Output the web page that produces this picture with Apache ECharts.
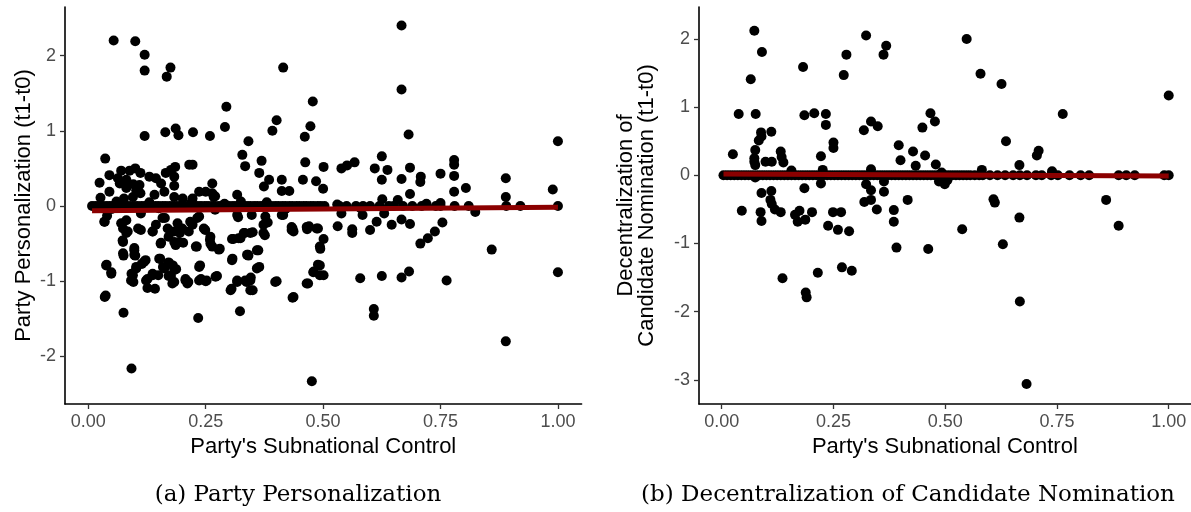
<!DOCTYPE html>
<html>
<head>
<meta charset="utf-8">
<script src="https://cdn.jsdelivr.net/npm/echarts@6/dist/echarts.min.js"></script>
<style>
  html, body { margin: 0; padding: 0; background: #fff; }
  #chart { width: 1191px; height: 512px; }
</style>
</head>
<body>
<div id="chart"></div>
<script>
// Panel (a): change in party personalization vs. subnational control, [x, y]
const persAbove = [
  [0.054,2.20],[0.10,2.19],[0.12,2.01],[0.12,1.80],[0.12,0.93],[0.175,1.84],[0.167,1.72],[0.164,0.98],
  [0.186,1.03],[0.192,0.94],[0.223,0.98],[0.259,0.93],[0.291,1.05],[0.294,1.32],[0.341,0.86],[0.328,0.68],
  [0.334,0.53],[0.369,0.60],[0.364,0.44],[0.385,0.35],[0.374,0.26],[0.392,1.00],[0.401,1.14],[0.415,1.84],
  [0.412,0.35],[0.412,0.20],[0.428,0.20],[0.461,0.92],[0.473,1.06],[0.478,1.39],[0.462,0.58],[0.457,0.35],
  [0.485,0.33],[0.501,0.52],[0.50,0.23],[0.539,0.50],[0.551,0.54],[0.567,0.58],[0.61,0.50],[0.625,0.66],
  [0.637,0.48],[0.625,0.35],[0.667,2.40],[0.667,1.55],[0.682,0.95],[0.685,0.51],[0.667,0.36],[0.685,0.16],
  [0.707,0.32],[0.708,0.39],[0.75,0.43],[0.779,0.61],[0.779,0.55],[0.779,0.40],[0.779,0.19],[0.804,0.24],
  [0.889,0.37],[0.889,0.12],[0.989,0.22],[1.0,0.86],
  [0.036,0.63],[0.024,0.31],[0.045,0.41],[0.063,0.37],[0.070,0.47],[0.081,0.35],[0.088,0.47],[0.100,0.50],
  [0.111,0.44],[0.067,0.30],[0.081,0.24],[0.109,0.28],[0.111,0.17],[0.130,0.39],[0.144,0.37],[0.155,0.30],
  [0.165,0.44],[0.176,0.48],[0.183,0.39],[0.183,0.27],[0.162,0.19],[0.183,0.12],[0.201,0.10],[0.222,0.10],
  [0.236,0.19],[0.250,0.19],[0.264,0.30],[0.267,0.12],[0.317,0.15],[0.215,0.55],[0.222,0.55],[0.045,0.19],
  [0.026,0.11],[0.076,0.10],[0.095,0.12],[0.102,0.21],[0.141,0.15],[0.185,0.52],[0.096,0.29],[0.264,0.17],
  [0.27,0.13],[0.325,0.06],[0.626,0.09],[0.659,0.08],[0.75,0.04],[0.13,0.05],[0.06,0.06],[0.22,0.05],
  [0.29,0.03],[0.38,0.05],[0.53,0.02],[0.72,0.03]
];
const persBelow = [
  [0.824,-0.08],[0.859,-0.58],[0.738,-0.34],[0.754,-0.22],[0.723,-0.43],[0.707,-0.50],[0.685,-0.24],
  [0.667,-0.18],[0.646,-0.25],[0.63,-0.10],[0.614,-0.21],[0.60,-0.32],[0.584,-0.12],[0.562,-0.31],
  [0.562,-0.36],[0.531,-0.27],[0.539,-0.10],[0.501,-0.44],[0.494,-0.57],[0.489,-0.30],[0.47,-0.27],
  [0.466,-0.31],[0.435,-0.30],[0.437,-0.34],[0.415,-0.12],[0.376,-0.39],[0.382,-0.22],[0.362,-0.59],
  [0.35,-0.35],[0.34,-0.65],[0.333,-0.36],[0.324,-0.43],[0.309,-0.44],[0.319,-0.15],[0.28,-0.57],
  [0.264,-0.54],[0.259,-0.45],[0.249,-0.32],[0.231,-0.54],[0.236,-0.14],[0.217,-0.21],[0.195,-0.36],
  [0.186,-0.52],[0.202,-0.49],[0.171,-0.41],[0.163,-0.16],[0.154,-0.50],[0.137,-0.34],[0.112,-0.10],
  [0.106,-0.30],[0.098,-0.56],[0.081,-0.36],[0.073,-0.46],[0.034,-0.21],[0.04,-0.13],
  [0.035,-0.21],[0.070,-0.23],[0.081,-0.19],[0.074,-0.30],[0.084,-0.34],[0.112,-0.32],[0.137,-0.34],
  [0.144,-0.25],[0.158,-0.16],[0.169,-0.30],[0.183,-0.34],[0.190,-0.23],[0.200,-0.30],[0.214,-0.34],
  [0.222,-0.25],[0.232,-0.16],[0.246,-0.30],[0.260,-0.41],[0.260,-0.50],[0.278,-0.58],[0.155,-0.49],
  [0.193,-0.48],[0.183,-0.48],[0.229,-0.54],[0.074,-0.48],[0.074,-0.63],[0.098,-0.59],[0.098,-0.65],
  [0.119,-0.74],[0.102,-0.83],[0.091,-0.99],[0.095,-0.92],[0.123,-0.99],[0.137,-0.92],[0.151,-0.70],
  [0.162,-0.83],[0.172,-0.76],[0.183,-0.85],[0.176,-0.93],[0.179,-1.03],[0.207,-0.99],[0.211,-1.03],
  [0.236,-0.81],[0.236,-0.99],[0.250,-1.00],[0.271,-0.94],[0.038,-0.79],[0.049,-0.90],[0.035,-1.21],
  [0.303,-1.12],[0.317,-1.01],[0.334,-0.99],[0.345,-0.99],[0.345,-1.12],[0.359,-0.83],[0.359,-0.59],
  [0.338,-0.65],[0.306,-0.72],[0.317,-0.12],[0.306,-0.44],[0.320,-0.43],[0.331,-0.36],[0.345,-0.36],
  [0.373,-0.36],[0.373,-0.25],[0.377,-0.14],[0.433,-0.28],[0.433,-0.32],[0.465,-0.28],[0.486,-0.30],
  [0.493,-0.54],[0.479,-0.88],[0.493,-0.79],[0.493,-0.92],[0.465,-1.03],[0.398,-1.01],[0.435,-1.22],
  [0.412,-0.12],[0.348,-0.12],
  [0.039,-0.78],[0.049,-0.88],[0.037,-1.19],[0.075,-1.42],[0.092,-2.16],[0.075,-0.66],[0.10,-0.66],
  [0.092,-0.90],[0.096,-1.01],[0.102,-0.81],[0.114,-0.77],[0.122,-0.72],[0.126,-0.97],[0.126,-1.09],
  [0.142,-1.10],[0.137,-0.90],[0.153,-0.70],[0.149,-0.92],[0.159,-0.81],[0.171,-0.75],[0.171,-0.93],
  [0.18,-0.79],[0.183,-1.01],[0.187,-0.84],[0.207,-0.97],[0.213,-1.01],[0.234,-1.49],[0.238,-0.79],
  [0.24,-0.97],[0.252,-0.99],[0.274,-0.93],[0.307,-0.70],[0.305,-1.10],[0.317,-0.99],[0.323,-1.40],
  [0.341,-0.66],[0.337,-1.01],[0.346,-0.95],[0.35,-1.12],[0.364,-0.81],[0.401,-1.00],[0.437,-1.21],
  [0.468,-1.03],[0.48,-0.87],[0.489,-0.78],[0.501,-0.92],[0.476,-2.33],[0.579,-0.96],[0.608,-1.37],
  [0.608,-1.46],[0.625,-0.93],[0.667,-0.95],[0.683,-0.87],[0.763,-0.99],[0.889,-1.80],[1.0,-0.88],
  [0.05,-0.04],[0.15,-0.03],[0.27,-0.05],[0.42,-0.04],[0.58,-0.03]
];
// cases with no change (y = 0)
const persZeroX = [
  0.008,0.015,0.022,0.03,0.038,0.045,0.052,0.06,0.068,0.075,0.083,0.09,0.098,0.105,0.113,0.12,0.128,
  0.135,0.143,0.15,0.158,0.165,0.173,0.18,0.188,0.195,0.203,0.21,0.218,0.225,0.233,0.24,0.248,0.255,
  0.263,0.27,0.278,0.285,0.293,0.3,0.308,0.315,0.323,0.33,0.338,0.345,0.353,0.36,0.368,0.375,0.383,
  0.39,0.398,0.405,0.413,0.42,0.428,0.435,0.443,0.45,0.458,0.465,0.473,0.48,0.488,0.495,0.503,
  0.535,0.55,0.57,0.585,0.6,0.62,0.64,0.65,0.67,0.69,0.71,0.74,0.75,0.78,0.81,0.89,0.92,1.0
];
// fitted linear trend, panel (a)
const persFitX = [0.008, 1.0];
const persFitY = [-0.064, -0.018];

// Panel (b): change in decentralization of candidate nomination, [x, y]
const decPoints = [
  [0.073,2.12],[0.065,1.41],[0.09,1.81],[0.038,0.90],[0.076,0.90],[0.025,0.31],[0.045,-0.52],[0.088,0.63],
  [0.083,0.51],[0.089,0.57],[0.075,0.37],[0.073,0.20],[0.075,0.15],[0.073,0.25],[0.098,0.20],[0.112,0.20],
  [0.111,0.64],[0.132,0.35],[0.134,0.27],[0.138,0.19],[0.089,-0.26],[0.111,-0.23],[0.109,-0.36],
  [0.112,-0.42],[0.119,-0.50],[0.132,-0.54],[0.087,-0.54],[0.089,-0.67],[0.156,0.07],[0.164,-0.58],
  [0.174,-0.52],[0.170,-0.68],[0.187,-0.65],[0.185,-0.19],[0.182,1.59],[0.185,0.88],[0.207,0.91],
  [0.202,-0.54],[0.222,0.28],[0.226,0.08],[0.222,-0.12],[0.233,0.90],[0.233,0.74],[0.238,-0.74],
  [0.25,0.48],[0.25,0.40],[0.249,-0.54],[0.267,-0.54],[0.26,-0.80],[0.285,-0.82],[0.273,1.47],
  [0.279,1.77],[0.323,2.05],[0.318,0.66],[0.334,0.79],[0.349,0.72],[0.334,0.09],[0.323,-0.13],
  [0.334,-0.22],[0.319,-0.39],[0.334,-0.36],[0.347,-0.50],[0.363,-0.24],[0.363,-0.09],[0.362,1.77],
  [0.368,1.90],[0.385,-0.51],[0.385,-0.68],[0.391,-1.06],[0.396,0.44],[0.40,0.22],[0.416,-0.36],
  [0.428,0.35],[0.434,0.14],[0.449,0.70],[0.455,0.29],[0.467,0.91],[0.477,0.79],[0.462,-1.08],
  [0.479,0.16],[0.492,0.04],[0.486,-0.09],[0.499,-0.13],[0.505,-0.07],[0.538,-0.79],[0.548,2.00],
  [0.579,1.49],[0.582,0.08],[0.608,-0.35],[0.611,-0.40],[0.626,1.34],[0.636,0.50],[0.629,-1.01],
  [0.666,-0.62],[0.666,0.15],[0.705,0.29],[0.709,0.36],[0.763,0.90],[0.739,0.06],[0.86,-0.36],
  [0.888,-0.74],[1.0,1.17],[0.075,-0.03],
  [0.136,-1.51],[0.188,-1.72],[0.190,-1.79],[0.215,-1.43],[0.269,-1.35],[0.291,-1.40],[0.667,-1.85],
  [0.682,-3.06]
];
const decZeroX = [
  0.004,0.012,0.02,0.028,0.036,0.044,0.052,0.06,0.068,0.076,0.084,0.092,0.1,0.108,0.116,0.124,0.132,
  0.14,0.148,0.156,0.164,0.172,0.18,0.188,0.196,0.204,0.212,0.22,0.228,0.236,0.244,0.252,0.26,0.268,
  0.276,0.284,0.292,0.3,0.308,0.316,0.324,0.332,0.34,0.348,0.356,0.364,0.372,0.38,0.388,0.396,0.404,
  0.412,0.42,0.428,0.436,0.444,0.452,0.46,0.468,0.476,0.484,0.492,0.5,0.508,0.516,0.524,0.532,0.54,
  0.548,0.556,0.566,0.576,0.584,0.6,0.617,0.634,0.652,0.667,0.683,0.703,0.716,0.737,0.752,0.778,
  0.803,0.822,0.888,0.905,0.924,0.99,1.0
];
// fitted linear trend, panel (b)
const decFitX = [0.004, 1.0];
const decFitY = [0.02, -0.01];

const xTicks = [0, 0.25, 0.5, 0.75, 1];
const persYTicks = [-2, -1, 0, 1, 2];
const decYTicks = [-3, -2, -1, 0, 1, 2];

const zip = (xs, ys) => xs.map((x, i) => [x, ys[i]]);
const persData = persAbove.concat(persBelow, persZeroX.map(x => [x, 0]));
const decData = decPoints.concat(decZeroX.map(x => [x, 0]));

const SANS = 'Liberation Sans, Arial, sans-serif';

function xAxisCfg(gridIndex, min, max) {
  return {
    type: 'value', gridIndex, min, max,
    name: "Party's Subnational Control",
    nameLocation: 'middle', nameGap: 31,
    nameTextStyle: { fontFamily: SANS, fontSize: 22, color: '#000' },
    axisLine: { onZero: false, lineStyle: { color: '#000', width: 1.6 } },
    axisTick: { show: true, length: 5, customValues: xTicks, lineStyle: { color: '#333', width: 1.3 } },
    axisLabel: { customValues: xTicks, formatter: v => v.toFixed(2), fontFamily: SANS, fontSize: 18, color: '#4D4D4D', margin: 9 },
    splitLine: { show: false }
  };
}
function yAxisCfg(gridIndex, min, max, ticks, name, gap) {
  return {
    type: 'value', gridIndex, min, max,
    name, nameLocation: 'middle', nameGap: gap, nameRotate: 90,
    nameTextStyle: { fontFamily: SANS, fontSize: 22, color: '#000', lineHeight: 21, align: 'center' },
    axisLine: { show: true, onZero: false, lineStyle: { color: '#000', width: 1.6 } },
    axisTick: { show: true, length: 5, customValues: ticks, lineStyle: { color: '#333', width: 1.3 } },
    axisLabel: { customValues: ticks, fontFamily: SANS, fontSize: 18, color: '#4D4D4D', margin: 9 },
    splitLine: { show: false }
  };
}

const chart = echarts.init(document.getElementById('chart'), null, { renderer: 'canvas' });
chart.setOption({
  animation: false,
  backgroundColor: '#fff',
  grid: [
    { left: 65, top: 7, width: 516.6, height: 397 },
    { left: 699, top: 7, width: 491.7, height: 397 }
  ],
  xAxis: [xAxisCfg(0, -0.0496, 1.0504), xAxisCfg(1, -0.0508, 1.0492)],
  yAxis: [
    yAxisCfg(0, -2.633, 2.646, persYTicks, 'Party Personalization (t1-t0)', 31),
    yAxisCfg(1, -3.354, 2.469, decYTicks, 'Decentralization of\nCandidate Nomination (t1-t0)', 42)
  ],
  series: [
    { type: 'scatter', xAxisIndex: 0, yAxisIndex: 0, data: persData, symbolSize: 10,
      itemStyle: { color: '#000', opacity: 1 }, z: 2 },
    { type: 'line', xAxisIndex: 0, yAxisIndex: 0, data: zip(persFitX, persFitY), showSymbol: false,
      lineStyle: { color: '#8B0000', width: 5 }, z: 3 },
    { type: 'scatter', xAxisIndex: 1, yAxisIndex: 1, data: decData, symbolSize: 10,
      itemStyle: { color: '#000', opacity: 1 }, z: 2 },
    { type: 'line', xAxisIndex: 1, yAxisIndex: 1, data: zip(decFitX, decFitY), showSymbol: false,
      lineStyle: { color: '#8B0000', width: 5 }, z: 3 }
  ],
  graphic: [
    { type: 'text', position: [298, 495], style: { text: '(a) Party Personalization',
      font: '23px "DejaVu Serif", serif', fill: '#000', textAlign: 'center', textVerticalAlign: 'middle' } },
    { type: 'text', position: [908, 495], style: { text: '(b) Decentralization of Candidate Nomination',
      font: '23px "DejaVu Serif", serif', fill: '#000', textAlign: 'center', textVerticalAlign: 'middle' } }
  ]
});
</script>
</body>
</html>
